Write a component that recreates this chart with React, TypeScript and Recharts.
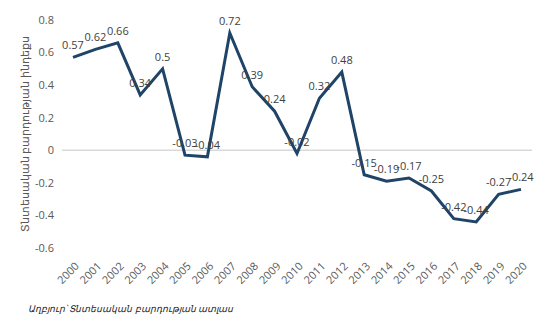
import { LineChart, Line, XAxis, YAxis, ReferenceLine, LabelList } from 'recharts';

const YEARS = ['2000', '2001', '2002', '2003', '2004', '2005', '2006', '2007', '2008', '2009', '2010',
  '2011', '2012', '2013', '2014', '2015', '2016', '2017', '2018', '2019', '2020'];
const ECI = [0.57, 0.62, 0.66, 0.34, 0.5, -0.03, -0.04, 0.72, 0.39, 0.24, -0.02,
  0.32, 0.48, -0.15, -0.19, -0.17, -0.25, -0.42, -0.44, -0.27, -0.24];
const Y_TICKS = [-0.6, -0.4, -0.2, 0, 0.2, 0.4, 0.6, 0.8];

const FONT = '"Open Sans", "Liberation Sans", sans-serif';
const Y_LABEL = 'Տնտեսական բարդության ինդեքս';
const SOURCE = 'Աղբյուր՝ Տնտեսական բարդության ատլաս';

const data = YEARS.map((year, i) => ({ year, value: ECI[i] }));

function YearTick(props: any) {
  const { x, y, payload } = props;
  return (
    <g transform={`translate(${x + 4},${y + 8})`}>
      <text transform="rotate(-45)" textAnchor="end" dy={4} fontSize={11} fill="#595959" fontFamily={FONT}>
        {payload.value}
      </text>
    </g>
  );
}

export default function App() {
  return (
    <div style={{ position: 'absolute', left: 0, top: 0, width: 547, height: 330, background: '#fff' }}>
      <LineChart width={547} height={330} data={data} margin={{ top: 20, right: 15, left: 0, bottom: 32 }}>
        <XAxis
          dataKey="year"
          axisLine={false}
          tickLine={false}
          interval={0}
          height={50}
          padding={{ left: 11, right: 11 }}
          tick={<YearTick />}
        />
        <YAxis
          width={62}
          domain={[-0.6, 0.8]}
          ticks={Y_TICKS}
          axisLine={false}
          tickLine={false}
          tickFormatter={(v: number) => String(Number(v.toFixed(1)))}
          tick={{ fill: '#595959', fontSize: 11, fontFamily: FONT }}
          label={{
            value: Y_LABEL,
            angle: -90,
            position: 'insideLeft',
            offset: 25,
            style: { textAnchor: 'middle', fill: '#595959', fontSize: 11, fontFamily: FONT },
          }}
        />
        <ReferenceLine y={0} stroke="#d9d9d9" strokeWidth={1.5} />
        <Line
          type="linear"
          dataKey="value"
          stroke="#1f4467"
          strokeWidth={3}
          dot={false}
          isAnimationActive={false}
        >
          <LabelList
            dataKey="value"
            position="top"
            offset={8}
            style={{ fill: '#404040', fontSize: 11, fontFamily: FONT }}
          />
        </Line>
      </LineChart>
      <div
        style={{
          position: 'absolute',
          left: 28,
          top: 302,
          fontSize: 9.2,
          fontStyle: 'italic',
          color: '#262626',
          fontFamily: FONT,
        }}
      >
        {SOURCE}
      </div>
    </div>
  );
}
